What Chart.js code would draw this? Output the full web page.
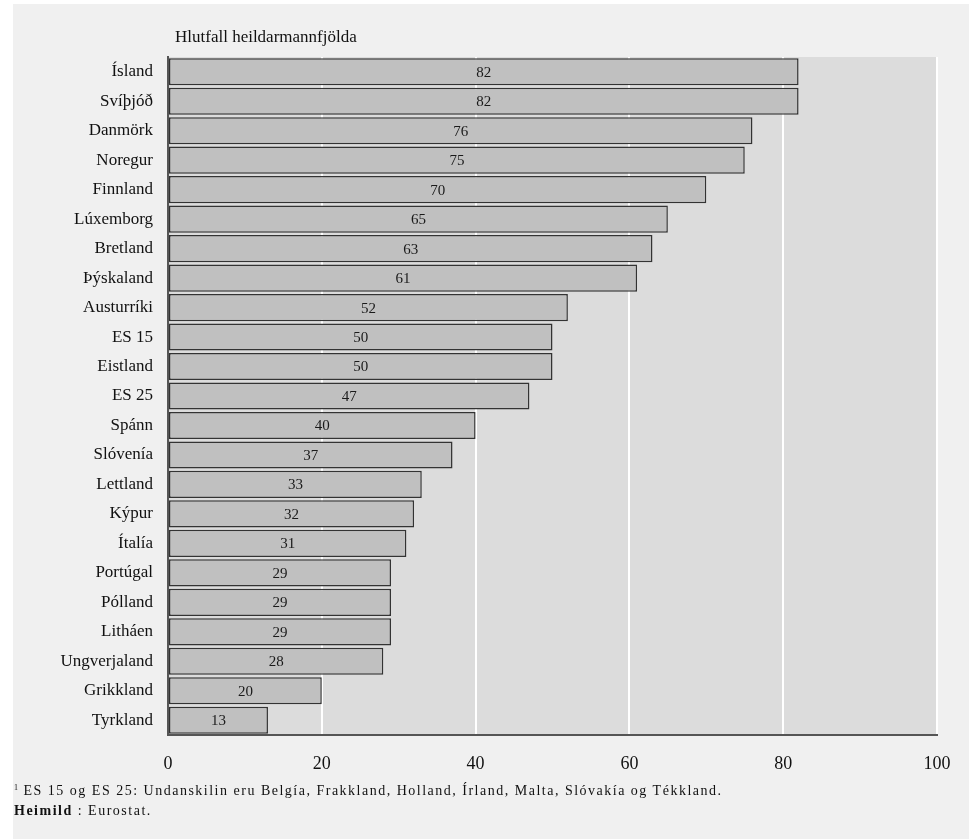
<!DOCTYPE html>
<html>
<head>
<meta charset="utf-8">
<script src="https://cdn.jsdelivr.net/npm/chart.js@4.4.0/dist/chart.umd.min.js"></script>
<style>
  html, body { margin: 0; padding: 0; background: #fff; }
  #panel { position: absolute; left: 13px; top: 4px; width: 956px; height: 835px; background: #f0f0f0; }
  #wrap { position: absolute; left: 0; top: 0; width: 969px; height: 839px; }
  .txt { position: absolute; font-family: "Liberation Serif", "DejaVu Serif", serif; color: #111; white-space: nowrap; }
  #title { left: 175px; top: 27px; font-size: 17px; }
  #note1 { left: 14px; top: 783px; font-size: 14px; letter-spacing: 1.5px; }
  #note2 { left: 14px; top: 803px; font-size: 14px; letter-spacing: 1.5px; }
  sup { font-size: 8px; vertical-align: 5px; margin-right: 4px; }
</style>
</head>
<body>
<div id="panel"></div>
<div id="wrap"><canvas id="chart" width="969" height="839"></canvas></div>
<div class="txt" id="title">Hlutfall heildarmannfjölda</div>
<div class="txt" id="note1"><sup>1</sup>ES 15 og ES 25: Undanskilin eru Belgía, Frakkland, Holland, Írland, Malta, Slóvakía og Tékkland.</div>
<div class="txt" id="note2"><b>Heimild</b> : Eurostat.</div>
<script>
const countries = ["Ísland", "Svíþjóð", "Danmörk", "Noregur", "Finnland", "Lúxemborg", "Bretland",
  "Þýskaland", "Austurríki", "ES 15", "Eistland", "ES 25", "Spánn", "Slóvenía", "Lettland",
  "Kýpur", "Ítalía", "Portúgal", "Pólland", "Litháen", "Ungverjaland", "Grikkland", "Tyrkland"];
const shares = [82, 82, 76, 75, 70, 65, 63, 61, 52, 50, 50, 47, 40, 37, 33, 32, 31, 29, 29, 29, 28, 20, 13];
const xTicks = [0, 20, 40, 60, 80, 100];

const serif = "'Liberation Serif', 'DejaVu Serif', serif";

// grey plot background
const plotBg = {
  id: "plotBg",
  beforeDraw(chart) {
    const { ctx, chartArea: a } = chart;
    ctx.save();
    ctx.fillStyle = "#dcdcdc";
    ctx.fillRect(a.left, a.top, a.right - a.left, a.bottom - a.top);
    ctx.restore();
  }
};

// value labels in the middle of each bar
const barLabels = {
  id: "barLabels",
  afterDatasetsDraw(chart) {
    const ctx = chart.ctx;
    const meta = chart.getDatasetMeta(0);
    ctx.save();
    ctx.font = "15px " + serif;
    ctx.fillStyle = "#1a1a1a";
    ctx.textAlign = "center";
    ctx.textBaseline = "middle";
    meta.data.forEach((bar, i) => {
      const p = bar.getProps(["x", "y", "base"], true);
      ctx.fillText(String(shares[i]), (p.x + p.base) / 2, p.y + 1);
    });
    ctx.restore();
  }
};

new Chart(document.getElementById("chart"), {
  type: "bar",
  data: {
    labels: countries,
    datasets: [{
      data: shares,
      backgroundColor: "#c0c0c0",
      borderColor: "#333",
      borderWidth: 1.5,
      borderSkipped: false,
      barPercentage: 0.92,
      categoryPercentage: 1
    }]
  },
  options: {
    indexAxis: "y",
    responsive: false,
    animation: false,
    layout: { padding: { left: 0, top: 57, right: 32, bottom: 0 } },
    plugins: { legend: { display: false }, tooltip: { enabled: false } },
    scales: {
      x: {
        min: 0,
        max: 100,
        afterBuildTicks(scale) { scale.ticks = xTicks.map(v => ({ value: v })); },
        afterFit(scale) { scale.height = 104; },
        grid: { color: "#ffffff", lineWidth: 2, drawTicks: false },
        border: { display: true, color: "#555", width: 2 },
        ticks: { color: "#111", padding: 18, font: { family: serif, size: 18 } }
      },
      y: {
        afterFit(scale) { scale.width = 168; },
        grid: { display: false, drawTicks: false },
        border: { display: true, color: "#555", width: 2 },
        ticks: { color: "#111", padding: 15, font: { family: serif, size: 17 } }
      }
    }
  },
  plugins: [plotBg, barLabels]
});
</script>
</body>
</html>
